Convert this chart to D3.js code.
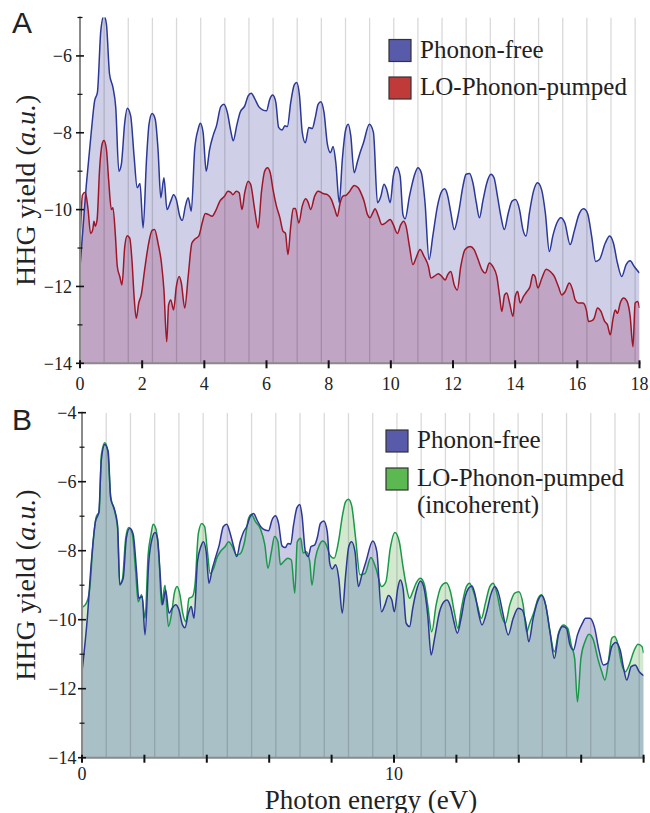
<!DOCTYPE html>
<html><head><meta charset="utf-8">
<script src="https://cdn.jsdelivr.net/npm/d3@7"></script>
<style>body{margin:0;background:#fff;} svg{display:block;}</style>
</head><body>
<svg id="chart" width="650" height="813"></svg>
<script>
// ---------- DATA ----------
// Panel A : Phonon-free
const aFreeE = [0,0.2,0.36,0.47,0.56,0.67,0.77,0.85,0.95,1.06,1.15,1.25,1.33,1.44,1.52,1.63,1.74,1.84,1.93,2.03,2.14,2.22,2.32,2.42,2.51,2.60,2.70,2.80,2.92,3.01,3.10,3.21,3.29,3.39,3.48,3.58,3.69,3.80,3.87,3.96,4.06,4.17,4.28,4.39,4.53,4.63,4.74,4.85,4.93,5.04,5.15,5.30,5.41,5.51,5.62,5.75,5.89,6.00,6.10,6.20,6.30,6.39,6.50,6.59,6.67,6.78,6.89,6.97,7.06,7.15,7.25,7.36,7.47,7.57,7.66,7.75,7.85,7.96,8.06,8.14,8.23,8.34,8.44,8.54,8.63,8.71,8.82,8.93,9.01,9.12,9.31,9.44,9.57,9.68,9.78,9.87,9.98,10.08,10.19,10.30,10.39,10.46,10.60,10.75,10.87,10.98,11.10,11.23,11.35,11.50,11.64,11.73,11.82,11.93,12.04,12.18,12.32,12.42,12.53,12.64,12.75,12.85,12.96,13.09,13.22,13.32,13.43,13.54,13.65,13.78,13.90,14.01,14.14,14.25,14.35,14.46,14.59,14.72,14.85,14.97,15.10,15.21,15.34,15.47,15.60,15.77,15.90,16.05,16.20,16.33,16.46,16.59,16.71,16.90,17.04,17.16,17.29,17.43,17.57,17.70,17.83,18.0];
const aFreeY = [-11.5,-9.39,-8.0,-7.17,-6.95,-5.34,-4.95,-5.17,-6.47,-6.82,-7.34,-9.0,-8.82,-7.73,-7.36,-7.56,-8.61,-9.43,-9.32,-10.48,-8.69,-7.78,-7.5,-7.65,-8.43,-9.69,-9.17,-10.0,-9.78,-9.61,-9.74,-10.17,-10.28,-9.91,-9.69,-10.04,-8.43,-7.91,-7.75,-7.99,-9.0,-8.43,-8.08,-7.82,-7.32,-7.26,-7.47,-7.95,-8.21,-7.82,-7.47,-7.3,-7.04,-6.97,-7.11,-7.32,-7.41,-7.43,-7.14,-7.02,-7.21,-7.86,-7.93,-7.82,-7.84,-7.21,-6.76,-6.69,-7.02,-7.99,-8.26,-7.86,-7.89,-7.6,-7.26,-7.19,-7.47,-8.30,-8.52,-8.36,-8.78,-9.82,-8.69,-7.95,-7.78,-8.07,-9.04,-8.74,-8.52,-8.26,-7.78,-7.99,-9.82,-9.65,-9.34,-9.48,-9.82,-9.13,-8.89,-9.13,-10.13,-10.24,-9.65,-9.13,-8.91,-9.04,-9.82,-11.30,-10.69,-9.91,-9.52,-9.46,-9.61,-10.08,-10.52,-10.08,-9.39,-9.08,-9.06,-9.30,-9.82,-10.21,-9.78,-9.30,-9.08,-9.17,-9.65,-10.17,-10.52,-10.08,-9.78,-9.74,-10.0,-10.52,-10.69,-10.08,-9.52,-9.30,-9.48,-10.08,-11.09,-10.69,-10.35,-10.21,-10.35,-10.91,-10.56,-10.13,-9.98,-10.10,-10.69,-11.35,-11.30,-10.87,-10.69,-10.87,-11.39,-11.74,-11.43,-11.33,-11.48,-11.65];
// Panel A : LO-Phonon-pumped
const aPumpE = [0,0.08,0.17,0.26,0.34,0.41,0.45,0.49,0.55,0.63,0.71,0.77,0.85,0.92,1.01,1.06,1.14,1.20,1.28,1.35,1.44,1.52,1.60,1.67,1.74,1.81,1.89,1.97,2.08,2.21,2.32,2.40,2.51,2.62,2.70,2.79,2.85,2.92,3.01,3.10,3.19,3.26,3.37,3.48,3.60,3.71,3.82,3.93,4.03,4.14,4.25,4.36,4.50,4.65,4.76,4.85,4.92,5.03,5.12,5.21,5.30,5.41,5.49,5.62,5.73,5.84,5.94,6.03,6.12,6.21,6.32,6.43,6.53,6.61,6.69,6.78,6.86,6.93,7.04,7.15,7.26,7.34,7.42,7.55,7.66,7.82,7.96,8.09,8.20,8.28,8.37,8.46,8.57,8.68,8.82,8.95,9.03,9.14,9.25,9.33,9.42,9.49,9.60,9.71,9.82,9.98,10.08,10.21,10.32,10.41,10.49,10.60,10.71,10.81,10.94,11.07,11.21,11.29,11.39,11.53,11.64,11.75,11.83,11.93,12.04,12.14,12.25,12.39,12.55,12.68,12.79,12.93,13.04,13.17,13.28,13.41,13.50,13.57,13.66,13.73,13.82,13.93,14.0,14.08,14.16,14.27,14.38,14.48,14.57,14.64,14.73,14.86,15.0,15.13,15.26,15.39,15.50,15.61,15.74,15.85,15.93,16.04,16.18,16.29,16.36,16.47,16.54,16.65,16.76,16.88,16.97,17.06,17.15,17.22,17.29,17.38,17.49,17.60,17.70,17.79,17.86,17.94,18.0];
const aPumpY = [-10.8,-9.62,-9.55,-10.0,-10.62,-10.52,-10.30,-10.43,-10.26,-8.95,-8.30,-8.20,-8.43,-9.21,-10.0,-9.95,-10.69,-11.48,-11.74,-11.96,-10.96,-10.68,-10.74,-11.30,-12.26,-12.83,-12.43,-12.22,-11.56,-10.87,-10.54,-10.52,-10.87,-11.39,-12.09,-13.44,-12.48,-12.35,-12.61,-12.0,-11.74,-11.91,-12.56,-11.74,-10.87,-10.76,-10.69,-10.35,-10.10,-10.13,-10.17,-10.04,-9.78,-9.65,-9.52,-9.55,-9.61,-9.52,-9.56,-10.0,-9.56,-9.26,-9.34,-10.0,-10.48,-9.52,-9.0,-8.91,-9.04,-9.48,-9.91,-10.21,-10.56,-10.62,-11.17,-10.43,-9.97,-9.97,-10.35,-9.91,-9.72,-9.81,-10.0,-9.65,-9.52,-9.58,-9.61,-9.74,-10.0,-10.17,-9.82,-9.65,-9.62,-9.52,-9.37,-9.43,-9.55,-9.78,-10.13,-10.21,-10.08,-9.98,-10.17,-10.39,-10.35,-10.26,-10.39,-10.62,-10.39,-10.30,-10.43,-10.96,-11.43,-11.26,-11.04,-11.22,-11.48,-11.78,-11.74,-11.67,-11.74,-11.83,-11.69,-11.61,-11.96,-12.09,-11.48,-11.04,-10.96,-11.04,-11.26,-11.56,-11.65,-11.39,-11.48,-11.74,-12.26,-12.65,-12.22,-12.17,-12.43,-12.78,-12.26,-12.13,-12.43,-12.26,-12.13,-12.0,-11.69,-11.74,-12.04,-11.78,-11.55,-11.61,-11.74,-12.0,-12.22,-12.13,-11.91,-12.09,-12.35,-12.43,-12.43,-12.61,-12.91,-12.89,-12.83,-12.56,-12.65,-12.91,-13.0,-13.26,-12.83,-12.61,-12.70,-12.43,-12.30,-12.39,-12.78,-13.57,-12.43,-12.39,-12.56];
// Panel B : Phonon-free
const bFreeE = [0,0.17,0.30,0.43,0.54,0.62,0.73,0.84,0.92,1.03,1.14,1.21,1.32,1.42,1.53,1.64,1.75,1.82,1.93,2.02,2.14,2.25,2.34,2.42,2.50,2.58,2.68,2.79,2.89,3.0,3.11,3.22,3.30,3.41,3.50,3.59,3.70,3.81,3.89,3.98,4.07,4.18,4.29,4.40,4.53,4.64,4.75,4.86,4.96,5.07,5.18,5.28,5.39,5.50,5.61,5.75,5.87,5.98,6.09,6.20,6.30,6.41,6.52,6.60,6.69,6.78,6.89,6.98,7.05,7.16,7.25,7.34,7.46,7.55,7.64,7.75,7.86,7.94,8.02,8.13,8.23,8.34,8.45,8.55,8.64,8.75,8.86,8.97,9.10,9.32,9.45,9.60,9.71,9.82,9.93,10.01,10.12,10.20,10.29,10.39,10.50,10.60,10.71,10.85,10.95,11.08,11.19,11.30,11.46,11.60,11.70,11.81,11.92,12.03,12.15,12.28,12.39,12.50,12.60,12.71,12.82,12.96,13.10,13.23,13.35,13.50,13.66,13.82,13.98,14.11,14.22,14.32,14.46,14.60,14.73,14.86,15.0,15.14,15.27,15.41,15.53,15.64,15.75,15.88,16.04,16.14,16.28,16.42,16.57,16.71,16.85,16.98,17.11,17.25,17.36,17.46,17.60,17.73,17.86,18.0];
const bFreeY = [-11.51,-9.96,-8.32,-7.16,-6.89,-5.37,-4.92,-5.13,-6.48,-6.77,-7.26,-8.97,-8.80,-7.64,-7.35,-7.52,-8.61,-9.38,-9.33,-10.44,-8.32,-7.64,-7.47,-7.64,-8.61,-9.57,-9.14,-9.81,-9.67,-9.57,-9.72,-10.15,-10.23,-9.81,-9.62,-9.96,-8.32,-7.88,-7.74,-8.03,-8.94,-8.51,-8.17,-7.83,-7.30,-7.23,-7.50,-7.88,-8.17,-7.74,-7.45,-7.30,-7.01,-6.92,-7.11,-7.33,-7.40,-7.42,-7.11,-6.99,-7.21,-7.86,-7.91,-7.79,-7.81,-7.26,-6.75,-6.66,-6.97,-8.03,-8.17,-7.88,-7.83,-7.59,-7.21,-7.14,-7.45,-8.36,-8.53,-8.41,-8.80,-9.81,-8.70,-7.88,-7.74,-8.03,-9.04,-8.70,-8.32,-7.72,-8.03,-9.77,-9.57,-9.30,-9.43,-9.77,-9.09,-8.85,-9.09,-10.10,-10.20,-9.67,-9.19,-8.88,-9.04,-9.86,-11.02,-10.54,-9.77,-9.48,-9.43,-9.62,-10.06,-10.39,-9.96,-9.33,-9.09,-9.02,-9.28,-9.81,-10.15,-9.81,-9.28,-9.04,-9.23,-9.86,-10.44,-9.96,-9.67,-9.72,-10.06,-10.64,-9.96,-9.48,-9.30,-9.57,-10.35,-11.12,-10.44,-10.20,-10.25,-10.73,-10.88,-10.44,-10.10,-9.96,-9.96,-10.20,-10.88,-11.31,-11.26,-10.78,-10.66,-10.88,-11.41,-11.75,-11.36,-11.31,-11.51,-11.62];
// Panel B : LO-Phonon-pumped (incoherent)
const bIncE = [0,0.14,0.25,0.35,0.46,0.55,0.62,0.73,0.82,0.92,1.05,1.14,1.21,1.30,1.40,1.50,1.61,1.72,1.80,1.91,2.02,2.12,2.21,2.28,2.37,2.47,2.55,2.66,2.77,2.88,2.96,3.05,3.14,3.23,3.33,3.43,3.54,3.62,3.73,3.84,3.93,4.01,4.11,4.22,4.32,4.43,4.59,4.70,4.82,4.95,5.07,5.21,5.34,5.43,5.56,5.72,5.86,5.96,6.07,6.17,6.28,6.36,6.46,6.60,6.71,6.82,6.90,7.01,7.09,7.19,7.30,7.37,7.48,7.61,7.72,7.83,7.94,8.08,8.22,8.35,8.45,8.54,8.64,8.77,8.91,9.07,9.26,9.42,9.60,9.74,9.88,10.03,10.17,10.28,10.39,10.50,10.60,10.71,10.85,10.98,11.08,11.21,11.35,11.51,11.67,11.81,11.94,12.05,12.15,12.32,12.42,12.53,12.67,12.80,12.93,13.07,13.18,13.31,13.44,13.57,13.71,13.87,14.0,14.14,14.25,14.35,14.49,14.62,14.73,14.86,15.0,15.14,15.27,15.43,15.57,15.68,15.79,15.88,15.99,16.12,16.25,16.39,16.53,16.66,16.76,16.87,16.98,17.07,17.18,17.28,17.41,17.54,17.68,17.82,17.95,18.0];
const bIncY = [-9.65,-9.52,-9.09,-7.83,-7.01,-6.87,-5.23,-4.87,-5.08,-6.43,-6.87,-7.35,-9.0,-8.80,-7.64,-7.33,-7.50,-8.61,-9.48,-9.28,-9.96,-8.12,-7.54,-7.23,-7.37,-8.22,-9.57,-9.0,-10.20,-9.77,-9.23,-9.04,-9.28,-9.81,-10.06,-9.38,-9.33,-9.0,-7.50,-7.21,-7.30,-7.93,-8.66,-8.51,-8.22,-8.03,-7.88,-7.74,-7.88,-8.12,-8.09,-7.74,-7.06,-6.95,-7.16,-7.37,-7.83,-8.51,-8.03,-7.59,-7.74,-8.41,-8.32,-8.22,-8.27,-9.23,-7.74,-7.64,-8.07,-8.03,-8.32,-9.0,-8.22,-7.83,-7.72,-7.83,-8.12,-8.22,-7.74,-6.97,-6.58,-6.51,-6.68,-7.64,-8.70,-8.66,-8.20,-8.51,-9.04,-8.90,-7.93,-7.47,-7.74,-8.41,-9.0,-9.38,-9.19,-8.94,-8.80,-9.0,-9.57,-10.35,-9.57,-9.04,-8.93,-9.19,-9.81,-10.25,-9.72,-9.04,-8.94,-9.14,-9.57,-9.96,-9.52,-9.04,-8.94,-9.28,-9.86,-10.10,-9.57,-9.23,-9.19,-9.57,-10.35,-10.10,-9.77,-9.38,-9.28,-9.57,-10.35,-10.93,-10.39,-10.15,-10.25,-10.73,-11.12,-12.38,-11.12,-10.64,-10.42,-10.59,-11.12,-11.51,-11.75,-11.22,-10.54,-10.49,-10.73,-11.22,-11.51,-11.31,-10.93,-10.71,-10.78,-10.97];
// Harmonic guide lines (order n at n * harmonicEnergy eV)
const harmonicEnergy = 0.7765;
const harmonicOrders = [1,2,3,4,5,6,7,8,9,10,11,12,13,14,15,16,17,18,19,20,21,22,23];
// Ticks
const xTicks = [0,2,4,6,8,10,12,14,16,18];
const xTickLabelsB = [0,10];
const yMajorA = [-14,-12,-10,-8,-6];
const yMinorA = [-13,-11,-9,-7,-5];
const yMajorB = [-14,-12,-10,-8,-6,-4];
const yMinorB = [-13,-11,-9,-7,-5];
const legendA = ["Phonon-free","LO-Phonon-pumped"];
const legendB = ["Phonon-free","LO-Phonon-pumped","(incoherent)"];

// ---------- DRAW ----------
const svg = d3.select('#chart');
const serif = "'Liberation Serif','Times New Roman',Times,serif";
const sans = "'Liberation Sans',Arial,Helvetica,sans-serif";
const defs = svg.append('defs');

function drawPanel(cfg){
  const x = d3.scaleLinear().domain([0,18]).range(cfg.xr);
  const y = d3.scaleLinear().domain(cfg.yd).range(cfg.yr);
  const g = svg.append('g');
  const top = cfg.yr[1], bot = cfg.yr[0];
  defs.append('clipPath').attr('id','rect'+cfg.id).append('rect')
    .attr('x',cfg.xr[0]).attr('y',top).attr('width',cfg.xr[1]-cfg.xr[0]).attr('height',bot-top);
  const area = d3.area().x(d=>x(d[0])).y0(y(-14)).y1(d=>y(d[1])).curve(d3.curveMonotoneX);
  const line = d3.line().x(d=>x(d[0])).y(d=>y(d[1])).curve(d3.curveMonotoneX);
  const s1 = d3.zip(cfg.e1, cfg.y1), s2 = d3.zip(cfg.e2, cfg.y2);
  defs.append('clipPath').attr('id','under'+cfg.id).append('path').attr('d', area(s1));
  const pg = g.append('g').attr('clip-path','url(#rect'+cfg.id+')');
  pg.append('path').attr('d',area(s2)).attr('fill',cfg.fill2);
  pg.append('path').attr('d',area(s1)).attr('fill',cfg.fill1);
  pg.append('g').attr('clip-path','url(#under'+cfg.id+')')
    .append('path').attr('d',area(s2)).attr('fill',cfg.fillBoth);
  pg.selectAll('line.h').data(harmonicOrders).enter().append('line')
    .attr('x1',d=>x(d*harmonicEnergy)).attr('x2',d=>x(d*harmonicEnergy))
    .attr('y1',top).attr('y2',bot).attr('stroke','rgba(0,0,0,0.15)').attr('stroke-width',1.3);
  pg.append('path').attr('d',line(s2)).attr('fill','none').attr('stroke',cfg.line2).attr('stroke-width',1.5).attr('stroke-linejoin','round');
  pg.append('path').attr('d',line(s1)).attr('fill','none').attr('stroke',cfg.line1).attr('stroke-width',1.5).attr('stroke-linejoin','round');
  g.append('line').attr('x1',cfg.xr[0]).attr('x2',cfg.xr[0]).attr('y1',top-1).attr('y2',bot)
    .attr('stroke','#8a8a8a').attr('stroke-width',2);
  g.append('line').attr('x1',cfg.xr[0]-1).attr('x2',cfg.xr[1]+1).attr('y1',bot).attr('y2',bot)
    .attr('stroke','#8a8a8a').attr('stroke-width',2);
  g.selectAll('line.xt').data(xTicks).enter().append('line')
    .attr('x1',d=>x(d)).attr('x2',d=>x(d)).attr('y1',bot-3).attr('y2',bot+5)
    .attr('stroke','#111').attr('stroke-width',2);
  g.selectAll('text.xl').data(cfg.xLabels).enter().append('text')
    .attr('x',d=>x(d)).attr('y',cfg.xLabelY).attr('text-anchor','middle')
    .attr('font-family',serif).attr('font-size',18).attr('fill','#222').text(d=>d);
  g.selectAll('line.ym').data(cfg.yMajor).enter().append('line')
    .attr('x1',cfg.xr[0]-4).attr('x2',cfg.xr[0]+4).attr('y1',d=>y(d)).attr('y2',d=>y(d))
    .attr('stroke','#111').attr('stroke-width',1.6);
  g.selectAll('line.yn').data(cfg.yMinor).enter().append('line')
    .attr('x1',cfg.xr[0]-2.5).attr('x2',cfg.xr[0]+2.5).attr('y1',d=>y(d)).attr('y2',d=>y(d))
    .attr('stroke','#111').attr('stroke-width',1.2);
  g.selectAll('text.yl').data(cfg.yMajor).enter().append('text')
    .attr('x',cfg.xr[0]-cfg.yLabGap).attr('y',d=>y(d)).attr('dy','0.35em').attr('text-anchor','end')
    .attr('font-family',serif).attr('font-size',18).attr('fill','#222')
    .text(d=>'\u2212'+Math.abs(d));
  const t = g.append('text').attr('transform',`translate(35,${(top+bot)/2}) rotate(-90)`)
    .attr('text-anchor','middle').attr('font-family',serif).attr('font-size',28).attr('fill','#222');
  t.append('tspan').text('HHG yield (');
  t.append('tspan').attr('font-style','italic').text('a.u.');
  t.append('tspan').text(')');
  g.append('text').attr('x',12).attr('y',cfg.labelY).attr('font-family',sans).attr('font-size',30)
    .attr('fill','#222').text(cfg.id);
  const lg = g.append('g');
  cfg.legend.forEach((txt,i)=>{
    if(cfg.legendSq[i]){
      lg.append('rect').attr('x',cfg.legX).attr('y',cfg.legY[i]-18).attr('width',22).attr('height',22)
        .attr('fill',cfg.legendSq[i]).attr('stroke','#333').attr('stroke-width',1.2);
    }
    lg.append('text').attr('x',cfg.legX+31).attr('y',cfg.legY[i]).attr('font-family',serif)
      .attr('font-size',25).attr('fill','#222').text(txt);
  });
}

drawPanel({id:'A', xr:[80,639.5], yd:[-14,-5], yr:[363.3,17.5],
  e1:aFreeE, y1:aFreeY, e2:aPumpE, y2:aPumpY,
  fill1:'#cfd0e7', fill2:'#e6c6d6', fillBoth:'#c1a5c5', line1:'#2b3896', line2:'#9e1628',
  xLabels:xTicks, xLabelY:390, yMajor:yMajorA, yMinor:yMinorA, yLabGap:8, labelY:33,
  legend:legendA, legendSq:['#585aaa','#c03a3a'], legX:389, legY:[57.5,95]});

drawPanel({id:'B', xr:[82,643.6], yd:[-14,-4], yr:[757.7,412.7],
  e1:bFreeE, y1:bFreeY, e2:bIncE, y2:bIncY,
  fill1:'#cbcbe6', fill2:'#d2e8cf', fillBoth:'#a9c0c7', line1:'#2b3896', line2:'#1a9848',
  xLabels:xTickLabelsB, xLabelY:780, yMajor:yMajorB, yMinor:yMinorB, yLabGap:5.5, labelY:430,
  legend:legendB, legendSq:['#585aaa','#5cb850',null], legX:386, legY:[448,486,513]});

svg.append('text').attr('x',371).attr('y',808.5).attr('text-anchor','middle')
  .attr('font-family',serif).attr('font-size',27).attr('fill','#222').text('Photon energy (eV)');
</script>
</body></html>
